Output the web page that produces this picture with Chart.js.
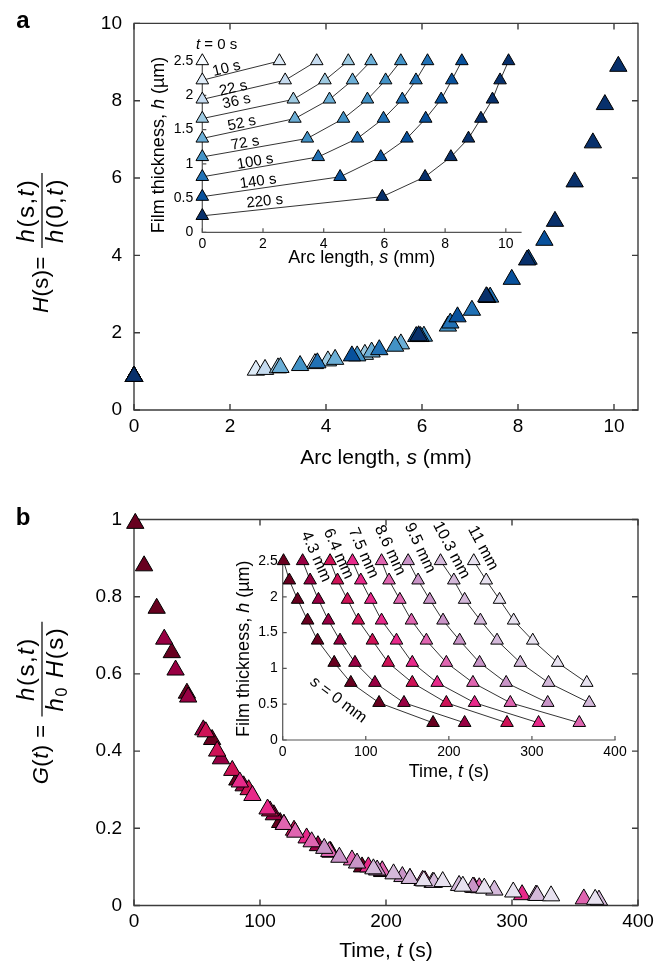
<!DOCTYPE html>
<html><head><meta charset="utf-8">
<script src="https://cdn.jsdelivr.net/npm/chart.js@4.4.1/dist/chart.umd.min.js"></script>
<style>
html,body{margin:0;padding:0;background:#fff;}
#wrap{position:relative;width:667px;height:965px;overflow:hidden;background:#fff;}
canvas{position:absolute;}
</style></head><body>
<div id="wrap">
<canvas id="mainA" width="667" height="480" style="left:0px;top:0px"></canvas>
<canvas id="mainB" width="667" height="480" style="left:0px;top:485px"></canvas>
<canvas id="insetA" width="400" height="250" style="left:140px;top:28px"></canvas>
<canvas id="insetB" width="415" height="280" style="left:225px;top:515px"></canvas>
</div>
<script>
// ---------------- Panel a : profiles h(s) at several times ----------------
const timeLabels = ['0 s','10 s','22 s','36 s','52 s','72 s','100 s','140 s','220 s'];
const bluesColors = ['#f7fbff','#deebf7','#c6dbef','#9ecae1','#6baed6','#4292c6','#2171b5','#08519c','#08306b'];

// arc length s (mm) of each fringe, per time
const sA_0   = [0];
const sA_10  = [0, 2.54];
const sA_22  = [0, 2.73, 3.77];
const sA_36  = [0, 3.00, 4.04, 4.81];
const sA_52  = [0, 3.05, 4.19, 4.95, 5.56];
const sA_72  = [0, 3.46, 4.65, 5.44, 6.04, 6.54];
const sA_100 = [0, 3.82, 5.11, 5.97, 6.59, 7.04, 7.42];
const sA_140 = [0, 4.54, 5.88, 6.74, 7.36, 7.87, 8.22, 8.55];
const sA_220 = [0, 5.93, 7.34, 8.19, 8.77, 9.18, 9.56, 9.81, 10.09];

// film thickness h (um), inset of panel a
const hA_0   = [2.50];
const hA_10  = [2.22, 2.50];
const hA_22  = [1.94, 2.22, 2.50];
const hA_36  = [1.66, 1.94, 2.22, 2.50];
const hA_52  = [1.37, 1.66, 1.94, 2.22, 2.50];
const hA_72  = [1.10, 1.37, 1.66, 1.94, 2.22, 2.50];
const hA_100 = [0.81, 1.10, 1.37, 1.66, 1.94, 2.22, 2.50];
const hA_140 = [0.52, 0.81, 1.10, 1.37, 1.66, 1.94, 2.22, 2.50];
const hA_220 = [0.24, 0.52, 0.81, 1.10, 1.37, 1.66, 1.94, 2.22, 2.50];

// normalised H(s) = h(s,t)/h(0,t), main panel a
const HA_0   = [0.87];
const HA_10  = [0.87, 1.03];
const HA_22  = [0.87, 1.05, 1.20];
const HA_36  = [0.87, 1.09, 1.27, 1.44];
const HA_52  = [0.87, 1.10, 1.31, 1.50, 1.71];
const HA_72  = [0.87, 1.15, 1.40, 1.65, 1.91, 2.17];
const HA_100 = [0.87, 1.22, 1.56, 1.90, 2.25, 2.58, 2.92];
const HA_140 = [0.87, 1.40, 1.90, 2.41, 2.91, 3.38, 3.90, 4.39];
const HA_220 = [0.87, 1.92, 2.93, 3.88, 4.88, 5.90, 6.91, 7.90, 8.89];

// ---------------- Panel b : thinning h(t) at several positions ----------------
const arcLabels = ['0 mm','4.3 mm','6.4 mm','7.5 mm','8.6 mm','9.5 mm','10.3 mm','11 mm'];
const purdColors = ['#67001f','#980043','#ce1256','#e7298a','#df65b0','#c994c7','#d4b9da','#e7e1ef'];

// time t (s) at which each fringe passes, per position
const tB_0   = [1, 8, 18, 30, 42, 62, 82, 116, 181];
const tB_43  = [24, 33, 43, 55, 69, 87, 111, 146, 219];
const tB_64  = [57, 66, 78, 91, 108, 127, 156, 197, 270];
const tB_75  = [84, 94, 106, 119, 137, 156, 186, 231, 308];
const tB_86  = [119, 128, 141, 155, 173, 197, 229, 274, 357];
const tB_95  = [151, 163, 177, 193, 213, 237, 269, 319];
const tB_103 = [190, 206, 219, 238, 258, 286, 320, 369];
const tB_11  = [230, 245, 261, 278, 301, 331, 366];

// film thickness h (um), inset of panel b
const hB_0   = [2.50, 2.23, 1.96, 1.67, 1.39, 1.08, 0.80, 0.52, 0.24];
const hB_43  = [2.50, 2.23, 1.96, 1.67, 1.39, 1.08, 0.80, 0.52, 0.24];
const hB_64  = [2.50, 2.23, 1.96, 1.67, 1.39, 1.08, 0.80, 0.52, 0.24];
const hB_75  = [2.50, 2.23, 1.96, 1.67, 1.39, 1.08, 0.80, 0.52, 0.24];
const hB_86  = [2.50, 2.23, 1.96, 1.67, 1.39, 1.08, 0.80, 0.52, 0.24];
const hB_95  = [2.50, 2.23, 1.96, 1.67, 1.39, 1.08, 0.80, 0.52];
const hB_103 = [2.50, 2.23, 1.96, 1.67, 1.39, 1.08, 0.80, 0.52];
const hB_11  = [2.50, 2.23, 1.96, 1.67, 1.39, 1.08, 0.80];

// G(t) = h(s,t)/(h0 H(s)), main panel b
const GB_0   = [0.99, 0.88, 0.77, 0.655, 0.55, 0.43, 0.325, 0.215, 0.10];
const GB_43  = [0.69, 0.61, 0.54, 0.455, 0.38, 0.31, 0.235, 0.155, 0.07];
const GB_64  = [0.45, 0.40, 0.35, 0.30, 0.245, 0.195, 0.14, 0.088, 0.047];
const GB_75  = [0.32, 0.285, 0.25, 0.21, 0.175, 0.138, 0.10, 0.064, 0.028];
const GB_86  = [0.21, 0.19, 0.165, 0.14, 0.118, 0.09, 0.065, 0.046, 0.017];
const GB_95  = [0.148, 0.125, 0.11, 0.092, 0.075, 0.06, 0.048, 0.027];
const GB_103 = [0.095, 0.082, 0.07, 0.06, 0.052, 0.04, 0.026, 0.014];
const GB_11  = [0.064, 0.062, 0.05, 0.045, 0.035, 0.025, 0.016];

const sA = [sA_0,sA_10,sA_22,sA_36,sA_52,sA_72,sA_100,sA_140,sA_220];
const hA = [hA_0,hA_10,hA_22,hA_36,hA_52,hA_72,hA_100,hA_140,hA_220];
const HA = [HA_0,HA_10,HA_22,HA_36,HA_52,HA_72,HA_100,HA_140,HA_220];
const tB = [tB_0,tB_43,tB_64,tB_75,tB_86,tB_95,tB_103,tB_11];
const hB = [hB_0,hB_43,hB_64,hB_75,hB_86,hB_95,hB_103,hB_11];
const GB = [GB_0,GB_43,GB_64,GB_75,GB_86,GB_95,GB_103,GB_11];

// ---------------- drawing helpers ----------------
const FONT = "'Liberation Sans', Arial, Helvetica, sans-serif";
function fontStr(p, size){ return (p.b?'bold ':'') + (p.i?'italic ':'') + (p.size||size) + 'px ' + FONT; }
function partWidth(ctx, p, size, sp){
  ctx.font = fontStr(p, size);
  if(!sp) return ctx.measureText(p.t).width;
  let w = 0; for(const ch of p.t){ w += ctx.measureText(ch).width + sp; } return w;
}
function measureParts(ctx, parts, size, sp){ return parts.map(p=>partWidth(ctx,p,size,sp)); }
function sum(a){ return a.reduce((s,v)=>s+v,0); }
function drawParts(ctx, parts, size, x, y, sp){
  let cx = x;
  parts.forEach(p=>{
    ctx.font = fontStr(p, size);
    if(!sp){ ctx.fillText(p.t, cx, y+(p.dy||0)); cx += ctx.measureText(p.t).width; }
    else { for(const ch of p.t){ ctx.fillText(ch, cx, y+(p.dy||0)); cx += ctx.measureText(ch).width + sp; } }
  });
}
function rich(ctx, parts, size, x, y, rotDeg, align){
  ctx.save(); ctx.translate(x,y); ctx.rotate((rotDeg||0)*Math.PI/180);
  ctx.textBaseline='middle'; ctx.textAlign='left'; ctx.fillStyle='#000';
  const tot = sum(measureParts(ctx, parts, size, 0));
  const x0 = align==='left'?0:(align==='right'?-tot:-tot/2);
  drawParts(ctx, parts, size, x0, 0, 0);
  ctx.restore();
}
function fraction(ctx, cx, cy, prefix, num, den, f){
  ctx.save(); ctx.translate(cx,cy); ctx.rotate(-Math.PI/2);
  ctx.textBaseline='middle'; ctx.textAlign='left'; ctx.fillStyle='#000';
  const wp=sum(measureParts(ctx,prefix,f.ps,f.psp));
  const wn=sum(measureParts(ctx,num,f.fs,f.fsp)), wd=sum(measureParts(ctx,den,f.fs,f.fsp));
  const wf=Math.max(wn,wd)+f.pad, tot=wp+f.gap+wf, x0=-tot/2;
  drawParts(ctx,prefix,f.ps,x0,0,f.psp);
  const fx=x0+wp+f.gap;
  ctx.strokeStyle='#000'; ctx.lineWidth=1.2; ctx.beginPath(); ctx.moveTo(fx,0); ctx.lineTo(fx+wf,0); ctx.stroke();
  drawParts(ctx,num,f.fs,fx+(wf-wn)/2,-f.fs*0.6,f.fsp);
  drawParts(ctx,den,f.fs,fx+(wf-wd)/2,f.fs*0.6,f.fsp);
  ctx.restore();
}
function decorPlugin(cfg){
  return {
    id:'decor_'+cfg.id,
    beforeDatasetsDraw(chart){
      const ctx=chart.ctx, a=chart.chartArea, xs=chart.scales.x, ys=chart.scales.y;
      ctx.save();
      ctx.strokeStyle=cfg.axisColor; ctx.lineWidth=cfg.axisWidth; ctx.lineCap='square';
      ctx.beginPath();
      if(cfg.box){ ctx.rect(a.left,a.top,a.right-a.left,a.bottom-a.top); }
      else { ctx.moveTo(a.left,a.top); ctx.lineTo(a.left,a.bottom); ctx.lineTo(a.right,a.bottom); }
      ctx.stroke();
      ctx.lineCap='butt';
      ctx.beginPath();
      const L=cfg.tickLen;
      xs.ticks.forEach(t=>{ const p=xs.getPixelForValue(t.value);
        ctx.moveTo(p,a.bottom); ctx.lineTo(p,a.bottom-L);
        if(cfg.box){ ctx.moveTo(p,a.top); ctx.lineTo(p,a.top+L); } });
      ys.ticks.forEach(t=>{ const p=ys.getPixelForValue(t.value);
        ctx.moveTo(a.left,p); ctx.lineTo(a.left+L,p);
        if(cfg.box){ ctx.moveTo(a.right,p); ctx.lineTo(a.right-L,p); } });
      ctx.stroke(); ctx.restore();
    },
    afterDraw(chart){ cfg.labels(chart); }
  };
}
function build(id, cfg){
  const datasets = cfg.xs.map((xv,i)=>({
    label: cfg.names[i],
    data: xv.map((v,j)=>({x:v, y:cfg.ys[i][j]})),
    showLine: cfg.lines, borderColor:'#000', borderWidth:0.8,
    pointStyle:'triangle', pointRadius:cfg.r, pointBackgroundColor:cfg.colors[i],
    pointBorderColor:'#000', pointBorderWidth:1, clip:false,
    order: cfg.xs.length-1-i
  }));
  const tickFmt = v => String(+(+v).toFixed(2));
  return new Chart(document.getElementById(id), {
    type:'scatter',
    data:{datasets},
    options:{
      responsive:false, animation:false, devicePixelRatio:1, events:[],
      layout:{padding:{left:0, top:cfg.pt, right:cfg.pr, bottom:0}},
      plugins:{legend:{display:false}, tooltip:{enabled:false}},
      scales:{
        x:{type:'linear', min:cfg.xmin, max:cfg.xmax,
           afterFit(s){ s.height=cfg.xh; },
           grid:{display:false, drawTicks:false}, border:{display:false},
           ticks:{stepSize:cfg.xstep, includeBounds:false, autoSkip:false, maxRotation:0, padding:cfg.xpad,
                  color:'#000', font:{family:FONT, size:cfg.fs}, callback:tickFmt}},
        y:{type:'linear', min:cfg.ymin, max:cfg.ymax,
           afterFit(s){ s.width=cfg.yw; },
           grid:{display:false, drawTicks:false}, border:{display:false},
           ticks:{stepSize:cfg.ystep, includeBounds:false, autoSkip:false, padding:cfg.ypad,
                  color:'#000', font:{family:FONT, size:cfg.fs}, callback:tickFmt}}
      }
    },
    plugins:[decorPlugin(cfg)]
  });
}
const hNum = [{t:'h',i:1},{t:'(s,'},{t:'t',i:1},{t:')'}];
const fracStyle = {ps:22, psp:0.5, fs:24, fsp:1.5, pad:10, gap:8};

// ---------------- Panel a main ----------------
build('mainA', {
  id:'mainA', xs:sA, ys:HA, names:timeLabels, colors:bluesColors, lines:false, r:10,
  xmin:0, xmax:10.5, xstep:2, ymin:0, ymax:10, ystep:2,
  pt:23, pr:29, xh:70, yw:134, xpad:5, ypad:12, fs:19,
  box:true, axisColor:'#3c3c3c', axisWidth:1.4, tickLen:6,
  labels(chart){
    const ctx=chart.ctx, a=chart.chartArea;
    rich(ctx,[{t:'Arc length, '},{t:'s',i:1},{t:' (mm)'}],21,(a.left+a.right)/2,a.bottom+48,0,'center');
    rich(ctx,[{t:'a',b:1}],24,23,21,0,'center');
    fraction(ctx,42,243,[{t:'H',i:1},{t:'(s)='}],hNum,
             [{t:'h',i:1},{t:'(0,'},{t:'t',i:1},{t:')'}],fracStyle);
  }
});

// ---------------- Panel a inset ----------------
const labA = [
  {txt:[{t:'t',i:1},{t:' = 0 s'}], x:0.47, y:2.73, seg:-1},
  {txt:[{t:'10 s'}], x:0.80, y:2.39, seg:1},
  {txt:[{t:'22 s'}], x:1.02, y:2.10, seg:2},
  {txt:[{t:'36 s'}], x:1.13, y:1.91, seg:3},
  {txt:[{t:'52 s'}], x:1.30, y:1.59, seg:4},
  {txt:[{t:'72 s'}], x:1.41, y:1.30, seg:5},
  {txt:[{t:'100 s'}], x:1.74, y:1.03, seg:6},
  {txt:[{t:'140 s'}], x:1.84, y:0.74, seg:7},
  {txt:[{t:'220 s'}], x:2.06, y:0.45, seg:8}
];
build('insetA', {
  id:'insetA', xs:sA, ys:hA, names:timeLabels, colors:bluesColors, lines:true, r:7.3,
  xmin:0, xmax:10.5, xstep:2, ymin:0, ymax:2.55, ystep:0.5,
  pt:29.6, pr:19, xh:45.7, yw:62.3, xpad:3, ypad:9, fs:14,
  box:false, axisColor:'#555', axisWidth:1.2, tickLen:4,
  labels(chart){
    const ctx=chart.ctx, a=chart.chartArea, xs=chart.scales.x, ys=chart.scales.y;
    rich(ctx,[{t:'Arc length, '},{t:'s',i:1},{t:' (mm)'}],18,(a.left+a.right)/2,a.bottom+26,0,'center');
    rich(ctx,[{t:'Film thickness, '},{t:'h',i:1},{t:' (\u00b5m)'}],18,a.left-43,(a.top+a.bottom)/2,-90,'center');
    labA.forEach(L=>{
      let rot=0;
      if(L.seg>0){
        const dx=xs.getPixelForValue(sA[L.seg][1])-xs.getPixelForValue(sA[L.seg][0]);
        const dy=ys.getPixelForValue(hA[L.seg][1])-ys.getPixelForValue(hA[L.seg][0]);
        rot=Math.atan2(dy,dx)*180/Math.PI;
      }
      rich(ctx,L.txt,15,xs.getPixelForValue(L.x),ys.getPixelForValue(L.y),rot,'center');
    });
  }
});

// ---------------- Panel b main ----------------
build('mainB', {
  id:'mainB', xs:tB, ys:GB, names:arcLabels, colors:purdColors, lines:false, r:10,
  xmin:0, xmax:400, xstep:100, ymin:0, ymax:1, ystep:0.2,
  pt:34.5, pr:29, xh:59.5, yw:134, xpad:5, ypad:12, fs:19,
  box:true, axisColor:'#3c3c3c', axisWidth:1.4, tickLen:6,
  labels(chart){
    const ctx=chart.ctx, a=chart.chartArea;
    rich(ctx,[{t:'Time, '},{t:'t',i:1},{t:' (s)'}],21,(a.left+a.right)/2,a.bottom+46,0,'center');
    rich(ctx,[{t:'b',b:1}],24,23,33,0,'center');
    fraction(ctx,42,703-485,[{t:'G',i:1},{t:'('},{t:'t',i:1},{t:') ='}],hNum,
             [{t:'h',i:1},{t:'0',size:16,dy:6},{t:' '},{t:'H',i:1},{t:'(s)'}],fracStyle);
  }
});

// ---------------- Panel b inset ----------------
const labB = [
  {txt:[{t:'4.3 mm'}], x:40, y:2.56, rot:66},
  {txt:[{t:'6.4 mm'}], x:67, y:2.60, rot:66},
  {txt:[{t:'7.5 mm'}], x:97, y:2.61, rot:66},
  {txt:[{t:'8.6 mm'}], x:129, y:2.65, rot:65},
  {txt:[{t:'9.5 mm'}], x:165, y:2.68, rot:65},
  {txt:[{t:'10.3 mm'}], x:203, y:2.65, rot:62},
  {txt:[{t:'11 mm'}], x:241, y:2.68, rot:62},
  {txt:[{t:'s',i:1},{t:' = 0 mm'}], x:67, y:0.56, rot:37}
];
build('insetB', {
  id:'insetB', xs:tB, ys:hB, names:arcLabels, colors:purdColors, lines:true, r:7.3,
  xmin:0, xmax:400, xstep:100, ymin:0, ymax:2.55, ystep:0.5,
  pt:42.4, pr:25, xh:55, yw:57.7, xpad:4, ypad:5, fs:14,
  box:false, axisColor:'#555', axisWidth:1.2, tickLen:4,
  labels(chart){
    const ctx=chart.ctx, a=chart.chartArea, xs=chart.scales.x, ys=chart.scales.y;
    rich(ctx,[{t:'Time, '},{t:'t',i:1},{t:' (s)'}],18,(a.left+a.right)/2,a.bottom+31.7,0,'center');
    rich(ctx,[{t:'Film thickness, '},{t:'h',i:1},{t:' (\u00b5m)'}],18,a.left-38.7,(a.top+a.bottom)/2,-90,'center');
    labB.forEach(L=>rich(ctx,L.txt,16,xs.getPixelForValue(L.x),ys.getPixelForValue(L.y),L.rot,'center'));
  }
});
</script>
</body></html>
